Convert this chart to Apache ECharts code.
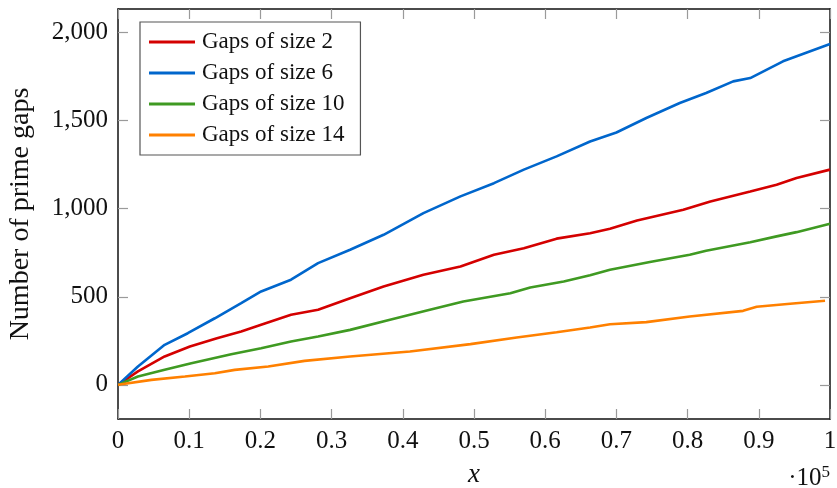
<!DOCTYPE html>
<html>
<head>
<meta charset="utf-8">
<script src="https://cdn.jsdelivr.net/npm/echarts@6/dist/echarts.min.js"></script>
<style>html,body{margin:0;padding:0;background:#fff}#c{width:837px;height:488px}</style>
</head>
<body>
<div id="c"></div>
<script>
// x values and counts of prime gaps
const gap2X  = [0,2800,6550,10100,13900,17300,20100,24300,28100,32600,37300,42900,48100,52800,57000,61600,66300,69100,72900,79400,83200,88800,92500,95300,100000];
const gap2Y  = [0,76,161,218,265,303,341,398,426,492,558,625,672,739,776,830,861,886,933,994,1041,1098,1136,1174,1222];
const gap6X  = [0,2800,6550,9800,13600,17300,20100,24300,28100,32600,37300,42900,48100,52800,57000,61600,66300,70000,74200,78900,82600,86400,88800,93400,100000];
const gap6Y  = [0,104,227,293,378,464,530,597,691,767,852,975,1070,1145,1222,1297,1382,1433,1515,1600,1657,1723,1742,1837,1935];
const gap10X = [0,2800,6550,10300,15900,20100,24300,28100,32600,38200,43800,48500,55100,57900,62600,66300,69100,74700,80300,82600,88800,92500,95300,100000];
const gap10Y = [0,47,85,123,174,208,246,274,312,369,426,473,520,553,587,622,653,697,739,761,810,843,867,914];
const gap14X = [0,4700,9400,13600,16400,21100,26200,32600,41000,49500,56000,61600,66300,69100,74200,80300,87800,89700,94400,99300];
const gap14Y = [0,28,47,66,85,104,136,161,189,231,269,299,326,344,356,388,420,443,460,477];

const seriesNames = ['Gaps of size 2','Gaps of size 6','Gaps of size 10','Gaps of size 14'];
const seriesColors = ['#d40000','#0066cc','#3f9a22','#ff8000'];
const yTicks = [0,500,1000,1500,2000];

const FONT = 'Liberation Serif';
const zip = (xs, ys) => xs.map((x, i) => [x, ys[i]]);
const allX = [gap2X, gap6X, gap10X, gap14X];
const allY = [gap2Y, gap6Y, gap10Y, gap14Y];

const chart = echarts.init(document.getElementById('c'), null, {renderer: 'canvas'});
const yMin = -194, yMax = 2134;
const tickStyle = {show: true, inside: true, length: 10, lineStyle: {color: '#9a9a9a', width: 1.2}};

chart.setOption({
  animation: false,
  backgroundColor: '#fff',
  textStyle: {fontFamily: FONT},
  grid: {left: 118, right: 7, top: 9, bottom: 69, containLabel: false, outerBoundsMode: 'none'},
  legend: {
    orient: 'vertical', left: 140, top: 22,
    data: seriesNames,
    selectedMode: false,
    icon: 'rect', itemWidth: 46, itemHeight: 3, itemGap: 7,
    padding: [8, 16, 8, 9],
    borderColor: '#555', borderWidth: 1.2, backgroundColor: '#fff',
    textStyle: {fontFamily: FONT, fontSize: 23, color: '#111', lineHeight: 24, padding: [0,0,0,2]}
  },
  xAxis: [{
    type: 'value', min: 0, max: 100000, interval: 10000,
    name: 'x', nameLocation: 'middle', nameGap: 42,
    nameTextStyle: {fontFamily: FONT, fontSize: 27, fontStyle: 'italic', color: '#111'},
    axisLine: {show: true, onZero: false, lineStyle: {color: '#111', width: 1.5}},
    axisTick: tickStyle,
    splitLine: {show: false},
    axisLabel: {fontFamily: FONT, fontSize: 25, color: '#111', margin: 10,
      formatter: v => (v === 0 ? '0' : (v === 100000 ? '1' : (v / 100000).toFixed(1)))}
  }, {
    type: 'value', min: 0, max: 100000, interval: 10000, position: 'top',
    axisLine: {show: true, onZero: false, lineStyle: {color: '#111', width: 1.5}},
    axisTick: tickStyle, axisLabel: {show: false}, splitLine: {show: false}
  }],
  yAxis: [{
    type: 'value', min: yMin, max: yMax,
    name: 'Number of prime gaps', nameLocation: 'middle', nameGap: 83,
    nameTextStyle: {fontFamily: FONT, fontSize: 28, color: '#111'},
    axisLine: {show: true, onZero: false, lineStyle: {color: '#111', width: 1.5}},
    axisTick: Object.assign({customValues: yTicks}, tickStyle),
    splitLine: {show: false},
    axisLabel: {customValues: yTicks, fontFamily: FONT, fontSize: 25, color: '#111', margin: 10,
      formatter: v => v.toLocaleString('en-US')}
  }, {
    type: 'value', min: yMin, max: yMax, position: 'right',
    axisLine: {show: true, onZero: false, lineStyle: {color: '#111', width: 1.5}},
    axisTick: Object.assign({customValues: yTicks}, tickStyle),
    axisLabel: {show: false}, splitLine: {show: false}
  }],
  graphic: [{
    type: 'text', right: 7, top: 464,
    style: {
      text: '·10{sup|5}', fontFamily: FONT, fontSize: 25, fill: '#111',
      rich: {sup: {fontFamily: FONT, fontSize: 17, verticalAlign: 'top', padding: [0,0,12,0], fill: '#111'}}
    }
  }],
  series: seriesNames.map((n, i) => ({
    name: n, type: 'line', xAxisIndex: 0, yAxisIndex: 0,
    data: zip(allX[i], allY[i]),
    showSymbol: false, symbol: 'none',
    lineStyle: {color: seriesColors[i], width: 2.6},
    itemStyle: {color: seriesColors[i]}
  }))
});
</script>
</body>
</html>
